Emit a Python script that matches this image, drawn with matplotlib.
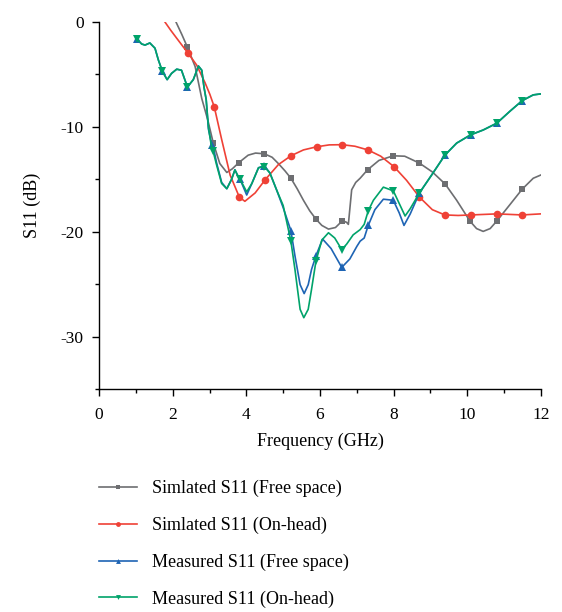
import numpy as np
import matplotlib
matplotlib.use('Agg')
import matplotlib.pyplot as plt
from matplotlib.lines import Line2D
from matplotlib.ticker import MultipleLocator

# simulated S11, free space
f_sim_free = [2.09, 2.25, 2.40, 2.61, 2.79, 2.95, 3.10, 3.28, 3.47, 3.62, 3.80, 4.05, 4.25,
              4.49, 4.70, 4.87, 5.05, 5.21, 5.38, 5.55, 5.72, 5.89, 6.05, 6.23, 6.42, 6.61,
              6.72, 6.77, 6.86, 6.97, 7.09, 7.29, 7.60, 7.99, 8.30, 8.70, 9.05, 9.40, 9.71,
              10.07, 10.25, 10.43, 10.62, 10.80, 11.16, 11.49, 11.79, 11.99]
s_sim_free = [0, -1.2, -2.4, -4.25, -7.3, -9.3, -11.5, -13.5, -14.35, -14.0, -13.4, -12.7, -12.5,
              -12.57, -12.9, -13.5, -14.2, -14.9, -15.9, -17.0, -18.0, -18.8, -19.4, -19.75, -19.6, -18.95,
              -19.1, -19.3, -16.0, -15.3, -14.9, -14.1, -13.2, -12.76, -12.8, -13.46, -14.3, -15.46, -17.0,
              -18.98, -19.7, -19.97, -19.7, -18.98, -17.4, -15.94, -14.9, -14.6]
mk_sim_free = [2.40, 3.10, 3.80, 4.49, 5.21, 5.89, 6.61, 7.29, 7.99, 8.70, 9.40, 10.07, 10.80, 11.49]

# simulated S11, on-head
f_sim_head = [1.79, 1.95, 2.11, 2.25, 2.42, 2.65, 2.88, 3.01, 3.13, 3.33, 3.56, 3.81, 3.96, 4.24,
              4.51, 4.87, 5.21, 5.55, 5.91, 6.25, 6.60, 6.95, 7.30, 7.65, 8.01, 8.35, 8.70, 9.05,
              9.39, 9.75, 10.10, 10.45, 10.80, 11.15, 11.49, 11.99]
s_sim_head = [0, -0.8, -1.55, -2.2, -2.98, -4.1, -5.8, -6.9, -8.1, -11.2, -14.6, -16.7, -17.1, -16.3,
              -15.05, -13.6, -12.76, -12.2, -11.9, -11.72, -11.7, -11.85, -12.2, -12.8, -13.8, -15.1, -16.7, -17.9,
              -18.4, -18.45, -18.4, -18.35, -18.3, -18.35, -18.4, -18.3]
mk_sim_head = [2.42, 3.13, 3.81, 4.51, 5.21, 5.91, 6.60, 7.30, 8.01, 8.70, 9.39, 10.10, 10.80, 11.49]

# measured S11, free space
f_meas_free = [1.02, 1.16, 1.25, 1.38, 1.52, 1.61, 1.72, 1.85, 1.97, 2.11, 2.24, 2.40, 2.56, 2.70,
               2.79, 2.85, 2.91, 2.97, 3.06, 3.12, 3.19, 3.33, 3.47, 3.60, 3.69, 3.76, 3.83, 4.01,
               4.15, 4.33, 4.49, 4.64, 4.82, 5.00, 5.21, 5.32, 5.46, 5.57, 5.68, 5.77, 5.89, 6.07,
               6.30, 6.59, 6.81, 7.00, 7.09, 7.20, 7.31, 7.49, 7.72, 7.99, 8.15, 8.28, 8.45, 8.70,
               9.03, 9.39, 9.71, 10.09, 10.43, 10.80, 11.16, 11.49, 11.79, 11.99]
s_meas_free = [-1.6, -2.1, -2.2, -2.0, -2.5, -3.6, -4.7, -5.5, -4.9, -4.5, -4.6, -6.2, -5.5, -4.2,
               -4.6, -6.2, -7.4, -10.2, -11.7, -12.2, -13.4, -15.3, -15.9, -15.0, -14.1, -14.6, -15.0, -16.5,
               -15.4, -13.9, -13.7, -14.4, -16.0, -17.7, -19.9, -22.3, -25.05, -25.9, -25.05, -23.6, -22.3, -20.7,
               -21.6, -23.4, -22.6, -21.4, -20.9, -20.6, -19.4, -17.9, -16.9, -17.0, -18.2, -19.4, -18.3, -16.3,
               -14.6, -12.7, -11.55, -10.76, -10.3, -9.65, -8.5, -7.5, -6.95, -6.86]
mk_meas_free = [1.02, 1.72, 2.40, 3.06, 3.83, 4.49, 5.21, 5.89, 6.59, 7.31, 7.99, 8.70, 9.39, 10.09, 10.80, 11.49]

# measured S11, on-head
f_meas_head = [1.02, 1.16, 1.25, 1.38, 1.52, 1.61, 1.72, 1.85, 1.97, 2.11, 2.24, 2.40, 2.56, 2.70,
               2.79, 2.85, 2.91, 2.97, 3.04, 3.10, 3.19, 3.33, 3.47, 3.60, 3.69, 3.76, 3.83, 4.01,
               4.15, 4.33, 4.49, 4.64, 4.82, 5.00, 5.21, 5.32, 5.46, 5.56, 5.68, 5.77, 5.89, 6.05,
               6.23, 6.40, 6.59, 6.72, 6.90, 7.09, 7.20, 7.31, 7.45, 7.72, 7.99, 8.15, 8.31, 8.45,
               8.70, 9.03, 9.39, 9.71, 10.09, 10.43, 10.80, 11.16, 11.49, 11.79, 11.99]
s_meas_head = [-1.6, -2.1, -2.2, -2.0, -2.5, -3.6, -4.7, -5.5, -4.9, -4.5, -4.6, -6.2, -5.5, -4.2,
               -4.6, -6.2, -7.4, -10.0, -11.6, -12.35, -13.6, -15.4, -15.9, -15.0, -14.1, -14.6, -15.0, -16.2,
               -15.4, -13.9, -13.8, -14.4, -16.0, -17.5, -20.9, -23.6, -27.4, -28.2, -27.4, -25.5, -22.8, -20.8,
               -20.1, -20.6, -21.7, -21.2, -20.3, -19.8, -19.3, -18.0, -17.0, -15.75, -16.1, -17.3, -18.5, -17.8,
               -16.3, -14.6, -12.7, -11.55, -10.76, -10.3, -9.65, -8.5, -7.5, -6.95, -6.86]
mk_meas_head = [1.02, 1.72, 2.40, 3.10, 3.83, 4.49, 5.21, 5.89, 6.59, 7.31, 7.99, 8.70, 9.39, 10.09, 10.80, 11.49]

labels = ['Simlated S11 (Free space)', 'Simlated S11 (On-head)',
          'Measured S11 (Free space)', 'Measured S11 (On-head)']

c_gray = '#6d6e71'
c_red = '#ef4136'
c_blue = '#1e64b4'
c_green = '#00a36a'

plt.rcParams['font.family'] = ['Liberation Serif', 'DejaVu Serif']
plt.rcParams['font.size'] = 12.5
plt.rcParams['axes.unicode_minus'] = False


def mark_idx(f, fm):
    f = np.asarray(f)
    return [int(np.argmin(np.abs(f - v))) for v in fm]


fig = plt.figure(figsize=(5.62, 6.12), dpi=100)
ax = fig.add_axes([99 / 562, 1 - 389 / 612, 442 / 562, 367 / 612])

series = [
    (f_sim_free, s_sim_free, mk_sim_free, c_gray, 's', 5),
    (f_sim_head, s_sim_head, mk_sim_head, c_red, 'o', 5.5),
    (f_meas_free, s_meas_free, mk_meas_free, c_blue, '^', 6),
    (f_meas_head, s_meas_head, mk_meas_head, c_green, 'v', 6),
]
handles = []
for (f, s, mk, col, m, ms), lab in zip(series, labels):
    ax.plot(f, s, color=col, lw=1.2, marker=m, ms=ms, markevery=mark_idx(f, mk),
            markeredgewidth=0)
    handles.append(Line2D([], [], color=col, lw=1.2, marker=m, ms=3.5, markeredgewidth=0))

ax.set_xlim(0, 12)
ax.set_ylim(-35, 0)
ax.xaxis.set_major_locator(MultipleLocator(2))
ax.xaxis.set_minor_locator(MultipleLocator(1))
ax.yaxis.set_major_locator(MultipleLocator(10))
ax.yaxis.set_minor_locator(MultipleLocator(5))
ax.tick_params(which='major', length=5, width=1, direction='out', labelsize=12.5, pad=8)
ax.tick_params(which='minor', length=3, width=1, direction='out')
ax.tick_params(axis='y', which='major', pad=6)
for sp in ['top', 'right']:
    ax.spines[sp].set_visible(False)
for sp in ['left', 'bottom']:
    ax.spines[sp].set_linewidth(1)
ax.set_xlabel('Frequency (GHz)', fontsize=13, labelpad=7)
ax.set_ylabel('S11 (dB)', fontsize=13, labelpad=14)

fig.legend(handles, labels, loc='upper left', bbox_to_anchor=(99 / 562, 1 - 480 / 612),
           frameon=False, fontsize=13, handlelength=2.1, handletextpad=0.85,
           labelspacing=1.08, borderaxespad=0, borderpad=0)

fig.savefig('out.png', dpi=100)
